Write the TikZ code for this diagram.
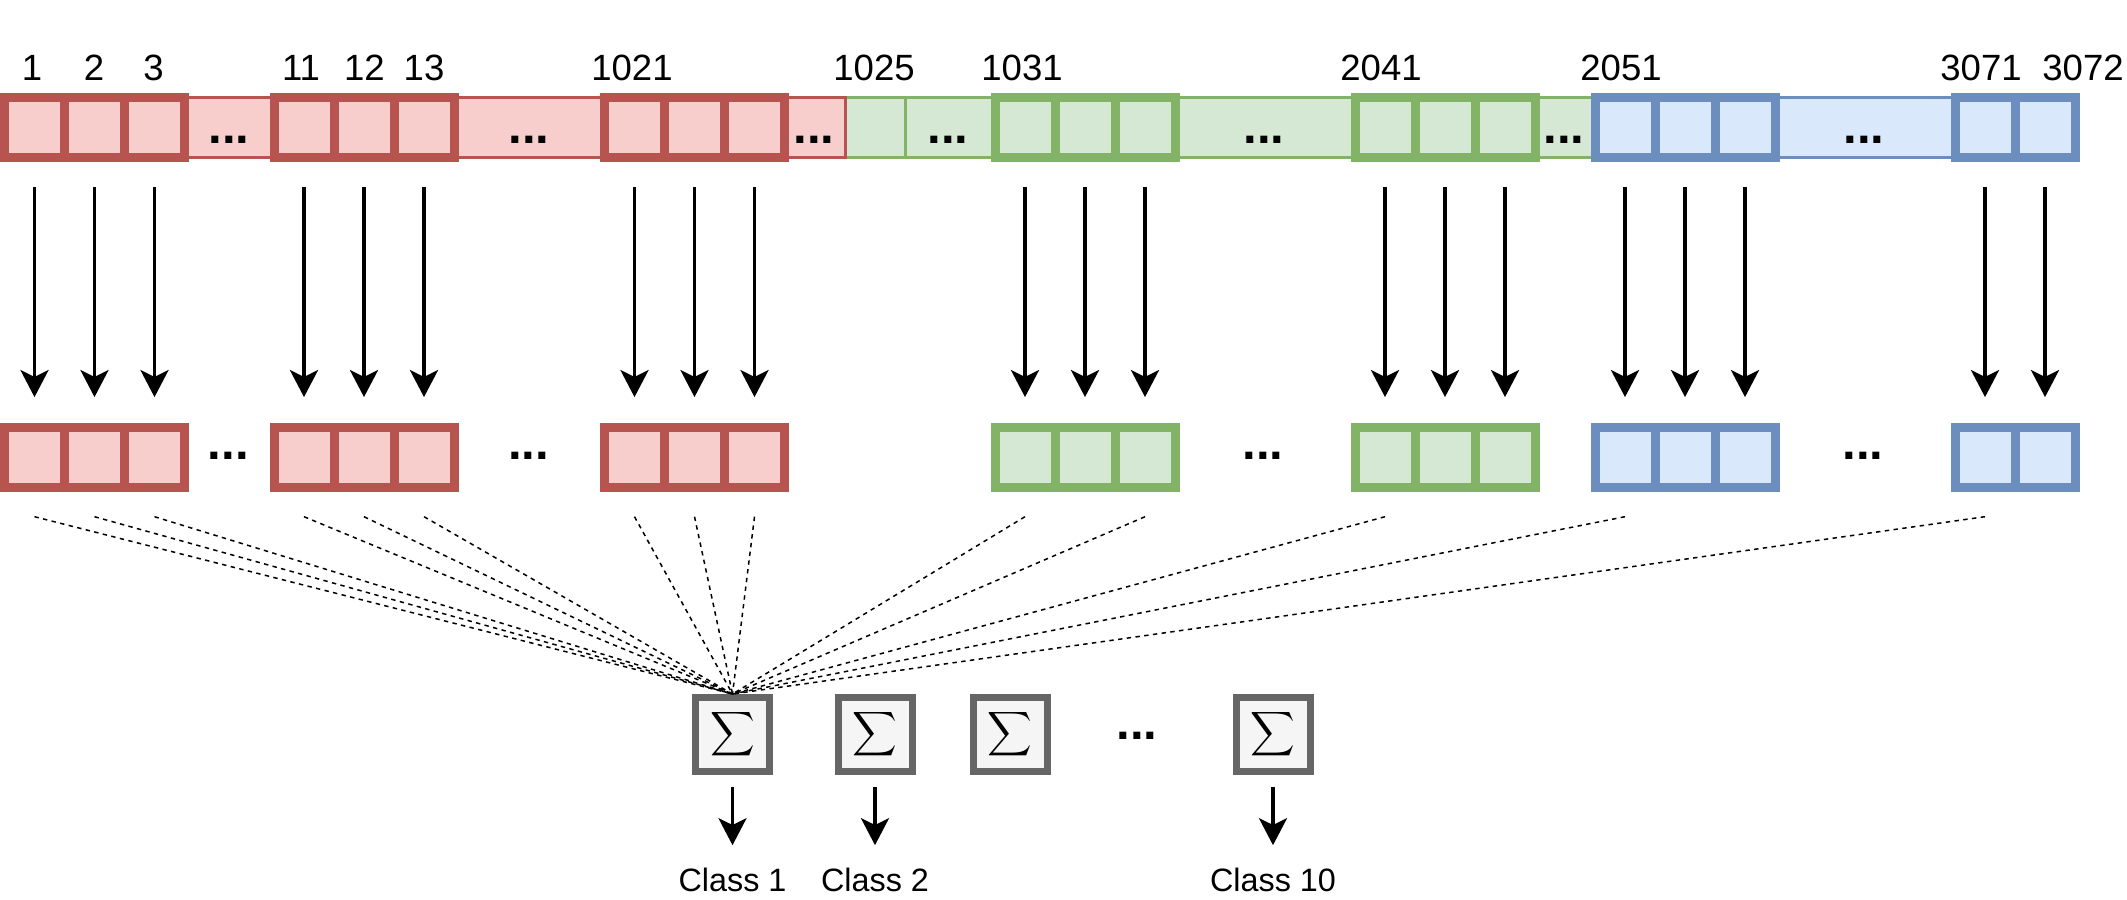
\documentclass[tikz,border=0pt]{standalone}
\usepackage{fontspec}
\setmainfont{Liberation Sans}
\usetikzlibrary{arrows.meta}

\definecolor{redfill}{HTML}{F8CECC}
\definecolor{redline}{HTML}{B85450}
\definecolor{greenfill}{HTML}{D5E8D4}
\definecolor{greenline}{HTML}{82B366}
\definecolor{bluefill}{HTML}{DAE8FC}
\definecolor{blueline}{HTML}{6C8EBF}
\definecolor{sumfill}{HTML}{F5F5F5}
\definecolor{sumline}{HTML}{666666}

\newcommand{\bigsum}{\scalebox{2.2}{$\displaystyle\sum$}}

\tikzset{
  cell/.style={rectangle, minimum width=15mm, minimum height=15mm, inner sep=0pt, line width=2.25mm},
  redcell/.style={cell, draw=redline, fill=redfill},
  greencell/.style={cell, draw=greenline, fill=greenfill},
  bluecell/.style={cell, draw=blueline, fill=bluefill},
  strip/.style={rectangle, minimum height=15mm, inner sep=0pt, line width=0.75mm},
  redstrip/.style={strip, draw=redline, fill=redfill},
  greenstrip/.style={strip, draw=greenline, fill=greenfill},
  bluestrip/.style={strip, draw=blueline, fill=bluefill},
  sumbox/.style={rectangle, draw=sumline, fill=sumfill, minimum size=18.5mm, inner sep=0pt, line width=1.75mm},
  num/.style={anchor=base, inner sep=0pt, font=\fontsize{26}{30}\selectfont},
  cls/.style={anchor=base, inner sep=0pt, font=\fontsize{23}{27}\selectfont},
  ellip/.style={anchor=base, inner sep=0pt, font=\fontsize{35}{40}\selectfont\bfseries},
  feed/.style={-{Stealth[length=6.75mm, width=7mm, inset=1.7mm]}, line width=0.85mm, shorten <=6.25mm, shorten >=6.4mm},
  outarr/.style={-{Stealth[length=6.75mm, width=7mm, inset=1.7mm]}, line width=0.85mm, shorten <=3mm, shorten >=5.7mm},
  wire/.style={line width=0.375mm, dash pattern=on 1.1mm off 1.1mm},
}

\begin{document}
\begin{tikzpicture}[x=0.25mm, y=-0.25mm] % one unit = one pixel of the image
\useasboundingbox (0,0) rectangle (2127,900);

% input row: thin strips behind the cells
\node[greenstrip, minimum width=15mm] (t1025) at (875,127.5) {};
\node[greenstrip, minimum width=22.5mm] (g1) at (950,127.5) {};
\node[greenstrip, minimum width=45mm] (g2) at (1265,127.5) {};
\node[greenstrip, minimum width=15mm] (g3) at (1565,127.5) {};
\node[bluestrip, minimum width=45mm] (b1) at (1865,127.5) {};
\node[redstrip, minimum width=22.5mm] (r1) at (229,127.5) {};
\node[redstrip, minimum width=37.6mm] (r2) at (529.25,127.5) {};
\node[redstrip, minimum width=15mm] (r3) at (815,127.5) {};

\node[redcell] (t1) at (34.5,127.5) {};
\node[redcell] (t2) at (94.5,127.5) {};
\node[redcell] (t3) at (154.5,127.5) {};
\node[redcell] (t11) at (304,127.5) {};
\node[redcell] (t12) at (364,127.5) {};
\node[redcell] (t13) at (424,127.5) {};
\node[redcell] (t1021) at (634.5,127.5) {};
\node[redcell] (t1022) at (694.5,127.5) {};
\node[redcell] (t1023) at (754.5,127.5) {};
\node[greencell] (t1031) at (1025,127.5) {};
\node[greencell] (t1032) at (1085,127.5) {};
\node[greencell] (t1033) at (1145,127.5) {};
\node[greencell] (t2041) at (1385,127.5) {};
\node[greencell] (t2042) at (1445,127.5) {};
\node[greencell] (t2043) at (1505,127.5) {};
\node[bluecell] (t2051) at (1625,127.5) {};
\node[bluecell] (t2052) at (1685,127.5) {};
\node[bluecell] (t2053) at (1745,127.5) {};
\node[bluecell] (t3071) at (1985,127.5) {};
\node[bluecell] (t3072) at (2045,127.5) {};

\node[ellip] (e1) at (229,144) {...};
\node[ellip] (e2) at (529,144) {...};
\node[ellip] (e3) at (814,144) {...};
\node[ellip] (e4) at (948,144) {...};
\node[ellip] (e5) at (1264,144) {...};
\node[ellip] (e6) at (1564,144) {...};
\node[ellip] (e7) at (1864,144) {...};

\node[num] (l1) at (32,80.7) {1};
\node[num] (l2) at (94,80.7) {2};
\node[num] (l3) at (153.5,80.7) {3};
\node[num] (l11) at (301,80.7) {11};
\node[num] (l12) at (364.5,80.7) {12};
\node[num] (l13) at (424,80.7) {13};
\node[num] (l1021) at (632,80.7) {1021};
\node[num] (l1025) at (874,80.7) {1025};
\node[num] (l1031) at (1022,80.7) {1031};
\node[num] (l2041) at (1381,80.7) {2041};
\node[num] (l2051) at (1621,80.7) {2051};
\node[num] (l3071) at (1981,80.7) {3071};
\node[num] (l3072) at (2083,80.7) {3072};

% weighted row
\node[redcell] (m1) at (34.5,457.2) {};
\node[redcell] (m2) at (94.5,457.2) {};
\node[redcell] (m3) at (154.5,457.2) {};
\node[redcell] (m11) at (304,457.2) {};
\node[redcell] (m12) at (364,457.2) {};
\node[redcell] (m13) at (424,457.2) {};
\node[redcell] (m1021) at (634.5,457.2) {};
\node[redcell] (m1022) at (694.5,457.2) {};
\node[redcell] (m1023) at (754.5,457.2) {};
\node[greencell] (m1031) at (1025,457.2) {};
\node[greencell] (m1032) at (1085,457.2) {};
\node[greencell] (m1033) at (1145,457.2) {};
\node[greencell] (m2041) at (1385,457.2) {};
\node[greencell] (m2042) at (1445,457.2) {};
\node[greencell] (m2043) at (1505,457.2) {};
\node[bluecell] (m2051) at (1625,457.2) {};
\node[bluecell] (m2052) at (1685,457.2) {};
\node[bluecell] (m2053) at (1745,457.2) {};
\node[bluecell] (m3071) at (1985,457.2) {};
\node[bluecell] (m3072) at (2045,457.2) {};

\node[ellip] (f1) at (228.5,459) {...};
\node[ellip] (f2) at (528.5,459) {...};
\node[ellip] (f3) at (1263,459) {...};
\node[ellip] (f4) at (1863,459) {...};

\draw[feed] (t1) -- (m1);
\draw[feed] (t2) -- (m2);
\draw[feed] (t3) -- (m3);
\draw[feed] (t11) -- (m11);
\draw[feed] (t12) -- (m12);
\draw[feed] (t13) -- (m13);
\draw[feed] (t1021) -- (m1021);
\draw[feed] (t1022) -- (m1022);
\draw[feed] (t1023) -- (m1023);
\draw[feed] (t1031) -- (m1031);
\draw[feed] (t1032) -- (m1032);
\draw[feed] (t1033) -- (m1033);
\draw[feed] (t2041) -- (m2041);
\draw[feed] (t2042) -- (m2042);
\draw[feed] (t2043) -- (m2043);
\draw[feed] (t2051) -- (m2051);
\draw[feed] (t2052) -- (m2052);
\draw[feed] (t2053) -- (m2053);
\draw[feed] (t3071) -- (m3071);
\draw[feed] (t3072) -- (m3072);

% sums
\node[sumbox] (s1) at (732.5,734.5) {\bigsum};
\node[sumbox] (s2) at (875,734.5) {\bigsum};
\node[sumbox] (s3) at (1010,734.5) {\bigsum};
\node[sumbox] (s4) at (1273,734.5) {\bigsum};
\node[ellip] (h1) at (1137,739) {...};

\draw[wire] ([yshift=-6.25mm]m1.south) -- (s1.north);
\draw[wire] ([yshift=-6.25mm]m2.south) -- (s1.north);
\draw[wire] ([yshift=-6.25mm]m3.south) -- (s1.north);
\draw[wire] ([yshift=-6.25mm]m11.south) -- (s1.north);
\draw[wire] ([yshift=-6.25mm]m12.south) -- (s1.north);
\draw[wire] ([yshift=-6.25mm]m13.south) -- (s1.north);
\draw[wire] ([yshift=-6.25mm]m1021.south) -- (s1.north);
\draw[wire] ([yshift=-6.25mm]m1022.south) -- (s1.north);
\draw[wire] ([yshift=-6.25mm]m1023.south) -- (s1.north);
\draw[wire] ([yshift=-6.25mm]m1031.south) -- (s1.north);
\draw[wire] ([yshift=-6.25mm]m1033.south) -- (s1.north);
\draw[wire] ([yshift=-6.25mm]m2041.south) -- (s1.north);
\draw[wire] ([yshift=-6.25mm]m2051.south) -- (s1.north);
\draw[wire] ([yshift=-6.25mm]m3071.south) -- (s1.north);

\node[cls] (c1) at (732.5,891.7) {Class 1};
\node[cls] (c2) at (875,891.7) {Class 2};
\node[cls] (c10) at (1273,891.7) {Class 10};

\draw[outarr] (s1.south) -- (c1.north);
\draw[outarr] (s2.south) -- (c2.north);
\draw[outarr] (s4.south) -- (c10.north);

\end{tikzpicture}
\end{document}
